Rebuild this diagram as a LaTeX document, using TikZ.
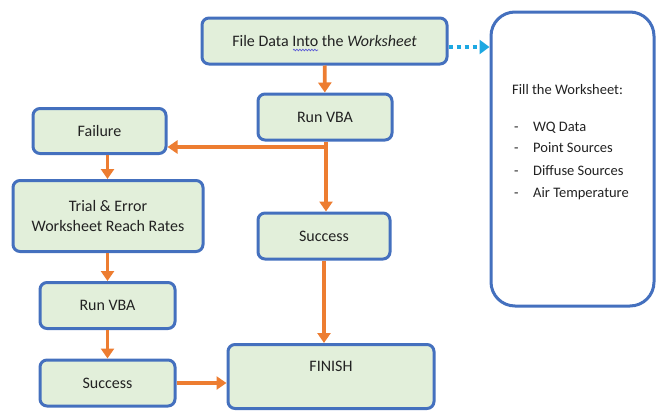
\documentclass[tikz,border=0pt]{standalone}
\usepackage{fontspec}
\setmainfont{Carlito}
\usetikzlibrary{arrows.meta,decorations.pathmorphing}

\definecolor{boxfill}{HTML}{E2EFDA}
\definecolor{boxline}{HTML}{4470BE}
\definecolor{flow}{HTML}{ED7D31}
\definecolor{link}{HTML}{1DA8E2}
\definecolor{ink}{HTML}{222222}
\definecolor{squiggle}{HTML}{5B5BD6}

\tikzset{
  stepbox/.style={draw=boxline, line width=3pt, fill=boxfill, rounded corners=7pt,
    inner sep=0pt, text=ink, font=\fontsize{16}{19}\selectfont},
  sheetbox/.style={draw=boxline, line width=3pt, fill=white, rounded corners=24pt},
  listtext/.style={inner sep=0pt, text=ink, font=\fontsize{14.5}{17}\selectfont, anchor=base west},
  flowline/.style={draw=flow, line width=3.8pt},
  flowarrow/.style={flowline, -{Triangle[length=10pt,width=13pt]}},
  dotarrow/.style={draw=link, line width=4.5pt, dash pattern=on 4pt off 4pt,
    -{Triangle[length=10pt,width=14pt]}}
}

\begin{document}
\begin{tikzpicture}[x=1pt, y=-1pt]
  \useasboundingbox (0,0) rectangle (664,410);

  % main column
  \node[stepbox, minimum width=245pt, minimum height=46pt] (file) at (324.5,41)
    {File Data Into the \textit{Worksheet}};
  \node[stepbox, minimum width=134pt, minimum height=46pt] (run1) at (325,117) {Run VBA};
  \node[stepbox, minimum width=132pt, minimum height=46pt] (succ1) at (324,236) {Success};
  \node[stepbox, minimum width=206pt, minimum height=64pt, text height=11pt, text depth=22pt]
    (finish) at (331,376.5) {FINISH};

  % retry column
  \node[stepbox, minimum width=133pt, minimum height=45pt] (fail) at (99.5,131) {Failure};
  \node[stepbox, minimum width=190pt, minimum height=71pt, align=center] (trial) at (108,216)
    {Trial \& Error\\[1pt]Worksheet Reach Rates};
  \node[stepbox, minimum width=135pt, minimum height=46pt] (run2) at (107.5,305.5) {Run VBA};
  \node[stepbox, minimum width=135pt, minimum height=46pt] (succ2) at (107.5,383) {Success};

  % worksheet contents panel
  \node[sheetbox, minimum width=163pt, minimum height=294pt] (sheet) at (572.5,159) {};
  \node[listtext] (fillhead) at (512,94) {Fill the Worksheet:};
  \node[listtext] (d1) at (514,131) {-};
  \node[listtext] (i1) at (533,131) {WQ Data};
  \node[listtext] (d2) at (514,152) {-};
  \node[listtext] (i2) at (533,152) {Point Sources};
  \node[listtext] (d3) at (514,175) {-};
  \node[listtext] (i3) at (533,175) {Diffuse Sources};
  \node[listtext] (d4) at (514,197) {-};
  \node[listtext] (i4) at (533,197) {Air Temperature};

  % spell-check squiggle under "Into"
  \draw[squiggle, line width=0.7pt, decorate,
        decoration={snake, amplitude=0.8pt, segment length=3pt}] (293,50) -- (318,50);

  % connectors
  \coordinate (split) at (326,147);
  \coordinate (dotrow) at (0,47);

  \draw[dotarrow] (file.east |- dotrow) -- (sheet.west |- dotrow);
  \draw[flowarrow] (file) -- (run1);
  \draw[flowarrow] (run1.south -| split) -- (split) -- (split -| fail.east);
  \draw[flowarrow] (split) -- (succ1.north -| split);
  \draw[flowarrow] (succ1) -- (succ1 |- finish.north);
  \draw[flowarrow] (fail.south -| run2) -- (trial.north -| run2);
  \draw[flowarrow] (trial.south -| run2) -- (run2.north);
  \draw[flowarrow] (run2) -- (succ2);
  \draw[flowarrow] (succ2.east) -- (succ2.east -| finish.west);
\end{tikzpicture}
\end{document}
